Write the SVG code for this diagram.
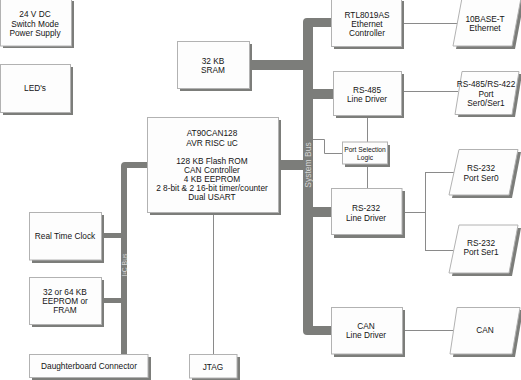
<svg xmlns="http://www.w3.org/2000/svg" width="521" height="380" viewBox="0 0 521 380">
<style>
.bx{fill:#fdfdfd;stroke:#b2b2b2;stroke-width:1}
.sh{fill:#7c7d7a}
.bus{fill:#7c7d7a}
.ln{fill:none;stroke:#8a8a8a;stroke-width:1}
text{font-family:"Liberation Sans",Arial,sans-serif;font-size:8.3px;fill:#141414;text-anchor:middle}
.sm{font-size:6.7px}
.bl{fill:#d6d6d6;font-size:8.5px}
.bl2{fill:#d6d6d6;font-size:6.8px}
</style>
<rect width="521" height="380" fill="#ffffff"/>
<g id="connectors">
<path class="bus" d="M307,18 H331 V27 H313 V89 H333 V99 H313 V207 H331 V217 H313 V326 H331 V335 H307 Q303,335 303,331 V170 H278 V160 H303 V70 H249 V60 H303 V22 Q303,18 307,18 Z"/>
<text class="bl" transform="translate(311,165) rotate(-90)">System Bus</text>
<path class="bus" d="M125,162 H147 V168 H127 V354 H121 V303 H101 V298 H121 V238 H101 V233 H121 V166 Q121,162 125,162 Z"/>
<text class="bl2" transform="translate(126.5,265) rotate(-90)">I²C Bus</text>
<path class="ln" d="M403,23.5 H458"/>
<path class="ln" d="M401,91.5 H458"/>
<path class="ln" d="M367.5,115 V142"/>
<path class="ln" d="M367.5,164 V188"/>
<path class="ln" d="M313,139.5 H324.5 V153.5 H342"/>
<path class="ln" d="M401,212.5 H425.5 M425.5,172 V250 M425,172.5 H455 M425,250.5 H455"/>
<path class="ln" d="M402,330.5 H455"/>
<path class="ln" d="M213.5,212 V354"/>
</g>
<g id="power">
<rect class="sh" x="3" y="1" width="71" height="47"/>
<rect class="bx" x="0.5" y="-2" width="71" height="48"/>
<text x="35" y="17">24 V DC</text>
<text x="35" y="27">Switch Mode</text>
<text x="35" y="36">Power Supply</text>
</g>
<g id="leds">
<rect class="sh" x="3" y="67" width="70" height="48"/>
<rect class="bx" x="0.5" y="64.5" width="70" height="48"/>
<text x="35" y="91">LED's</text>
</g>
<g id="sram">
<rect class="sh" x="180" y="44" width="72" height="47"/>
<rect class="bx" x="177.5" y="41.5" width="72" height="47"/>
<text x="213" y="64">32 KB</text>
<text x="213" y="73">SRAM</text>
</g>
<g id="rtl">
<rect class="sh" x="334" y="1" width="70" height="48"/>
<rect class="bx" x="331.5" y="-2" width="70" height="48.5"/>
<text x="367" y="18">RTL8019AS</text>
<text x="367" y="27">Ethernet</text>
<text x="367" y="36">Controller</text>
</g>
<g id="eth">
<polygon class="sh" points="465,1 524,1 515,49 456,49"/>
<polygon class="bx" points="462,-2 521,-2 512,46 453,46"/>
<text x="485" y="22">10BASE-T</text>
<text x="485" y="31">Ethernet</text>
</g>
<g id="rs485">
<rect class="sh" x="336" y="74" width="68" height="44"/>
<rect class="bx" x="333.5" y="71.5" width="68" height="44"/>
<text x="367" y="93">RS-485</text>
<text x="367" y="102">Line Driver</text>
</g>
<g id="rs485port">
<polygon class="sh" points="465,74 522,74 515,117 458,117"/>
<polygon class="bx" points="462,71.5 519,71.5 512,114.5 455,114.5"/>
<text x="486" y="87">RS-485/RS-422</text>
<text x="486" y="97">Port</text>
<text x="486" y="106">Ser0/Ser1</text>
</g>
<g id="at90">
<rect class="sh" x="150" y="120" width="131" height="95"/>
<rect class="bx" x="147.5" y="117.5" width="131" height="95"/>
<text x="212" y="136">AT90CAN128</text>
<text x="212" y="146">AVR RISC uC</text>
<text x="212" y="164">128 KB Flash ROM</text>
<text x="212" y="173">CAN Controller</text>
<text x="212" y="182">4 KB EEPROM</text>
<text x="212" y="191">2 8-bit &amp; 2 16-bit timer/counter</text>
<text x="212" y="200">Dual USART</text>
</g>
<g id="portsel">
<rect class="sh" x="345" y="145" width="45" height="22"/>
<rect class="bx" x="342.5" y="142" width="45" height="22"/>
<text class="sm" x="365" y="151.5">Port Selection</text>
<text class="sm" x="365" y="159.5">Logic</text>
</g>
<g id="rs232">
<rect class="sh" x="334" y="191" width="71" height="47"/>
<rect class="bx" x="331.5" y="188.5" width="70.5" height="46"/>
<text x="366" y="211">RS-232</text>
<text x="366" y="221">Line Driver</text>
</g>
<g id="ser0">
<polygon class="sh" points="462,152 521,152 512,198 452,198"/>
<polygon class="bx" points="459,149.5 518,149.5 509,195 449,195"/>
<text x="481" y="171">RS-232</text>
<text x="481" y="181">Port Ser0</text>
</g>
<g id="ser1">
<polygon class="sh" points="462,228 521,228 512,276 452,276"/>
<polygon class="bx" points="459,225 518,225 509,273 449,273"/>
<text x="481" y="246">RS-232</text>
<text x="481" y="255">Port Ser1</text>
</g>
<g id="rtc">
<rect class="sh" x="32" y="215" width="72" height="48"/>
<rect class="bx" x="29.5" y="212.5" width="72" height="47.5"/>
<text x="65" y="239">Real Time Clock</text>
</g>
<g id="eeprom">
<rect class="sh" x="32" y="280" width="72" height="47"/>
<rect class="bx" x="29.5" y="277.5" width="72" height="47"/>
<text x="65" y="295">32 or 64 KB</text>
<text x="65" y="304">EEPROM or</text>
<text x="65" y="313">FRAM</text>
</g>
<g id="daughter">
<rect class="sh" x="32" y="357" width="119" height="24"/>
<rect class="bx" x="29.5" y="354.5" width="118.5" height="23"/>
<text x="89" y="369">Daughterboard Connector</text>
</g>
<g id="jtag">
<rect class="sh" x="192" y="357" width="48" height="24"/>
<rect class="bx" x="189.5" y="354.5" width="47.5" height="23.5"/>
<text x="213" y="370">JTAG</text>
</g>
<g id="candrv">
<rect class="sh" x="334" y="310" width="71" height="47"/>
<rect class="bx" x="331.5" y="307.5" width="71" height="46.5"/>
<text x="366" y="329">CAN</text>
<text x="366" y="338">Line Driver</text>
</g>
<g id="can">
<polygon class="sh" points="460,310 523,310 515,357 453,357"/>
<polygon class="bx" points="457,307.5 520,307.5 512,354 450,354"/>
<text x="485" y="333">CAN</text>
</g>
</svg>
